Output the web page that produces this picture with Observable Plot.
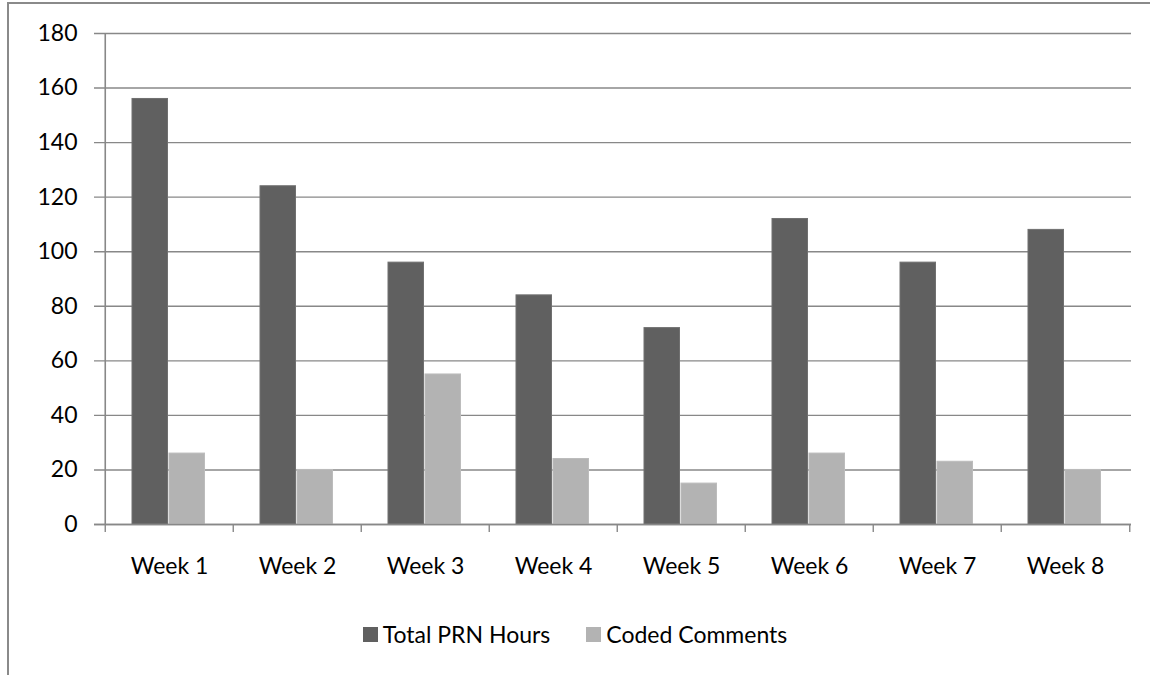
<!DOCTYPE html>
<html><head><meta charset="utf-8">
<script src="https://cdn.jsdelivr.net/npm/d3@7"></script>
<script src="https://cdn.jsdelivr.net/npm/@observablehq/plot@0.6"></script>
<style>
body{margin:0;background:#fff;}
#wrap{position:relative;width:1150px;height:675px;overflow:hidden;font-family:Lato,sans-serif;background:#fff;}
#frame{position:absolute;left:7px;top:2px;width:1200px;height:700px;border-left:2px solid #8a8a8a;border-top:2px solid #8a8a8a;}
#chart{position:absolute;left:0;top:0;}
#legend{position:absolute;top:623px;left:0;width:1150px;display:flex;justify-content:center;gap:36px;font-size:23px;color:#000;line-height:23px;}
#legend span.item{display:flex;align-items:center;}
.sw{display:inline-block;width:15px;height:15px;margin-right:5px;}
</style></head>
<body>
<div id="wrap"><div id="frame"></div><div id="chart"></div><div id="legend"></div></div>
<script>
const weeks = ["Week 1","Week 2","Week 3","Week 4","Week 5","Week 6","Week 7","Week 8"];
const totalPRNHours = [156,124,96,84,72,112,96,108];
const codedComments = [26,20,55,24,15,26,23,20];
const yTicks = [0,20,40,60,80,100,120,140,160,180];
const seriesNames = ["Total PRN Hours","Coded Comments"];
const seriesColors = ["#606060","#b3b3b3"];

const prn = weeks.map((w,i)=>({week:w, series:seriesNames[0], value:totalPRNHours[i]}));
const coded = weeks.map((w,i)=>({week:w, series:seriesNames[1], value:codedComments[i]}));

const H = 610, MT = 33, MB = 86;
const plotH = H - MT - MB;
const bandHalf = (1150 - 103 - 19) / weeks.length / 2;

const chart = Plot.plot({
  width:1150, height:H, marginLeft:103, marginRight:19, marginTop:MT, marginBottom:MB,
  style:{fontFamily:"Lato, sans-serif", background:"transparent"},
  x:{domain:weeks, padding:0, label:null},
  y:{domain:[0,180], label:null},
  color:{domain:seriesNames, range:seriesColors},
  marks:[
    Plot.gridY(yTicks,{stroke:"#888",strokeOpacity:1,strokeWidth:1.4,insetLeft:-9}),
    Plot.axisY(yTicks,{tickSize:0,tickPadding:26,fontSize:23,fill:"#000",label:null}),
    Plot.axisX({tickSize:0,tickPadding:33,fontSize:23,fill:"#000",label:null}),
    Plot.barY(prn,{x:"week",y:"value",fill:"series",stroke:"#707070",strokeWidth:1,insetLeft:27,insetRight:bandHalf*2-27-36}),
    Plot.barY(coded,{x:"week",y:"value",fill:"series",stroke:"#bcbcbc",strokeWidth:1,insetLeft:64,insetRight:bandHalf*2-64-36}),
    Plot.ruleX(weeks,{x:d=>d,dx:-bandHalf,stroke:"#888",strokeWidth:1.4,insetTop:plotH,insetBottom:-8}),
    Plot.ruleX([weeks[weeks.length-1]],{x:d=>d,dx:bandHalf,stroke:"#888",strokeWidth:1.4,insetTop:plotH,insetBottom:-8}),
    Plot.ruleX([weeks[0]],{x:d=>d,dx:-bandHalf,stroke:"#888",strokeWidth:1.6}),
    Plot.ruleY([0],{stroke:"#888",strokeWidth:1.6,insetLeft:-9})
  ]
});
document.getElementById("chart").appendChild(chart);

const legend = document.getElementById("legend");
seriesNames.forEach((s,i)=>{
  const item = document.createElement("span");
  item.className = "item";
  const sw = document.createElement("span");
  sw.className = "sw";
  sw.style.background = seriesColors[i];
  item.appendChild(sw);
  item.appendChild(document.createTextNode(s));
  legend.appendChild(item);
});
</script>
</body></html>
